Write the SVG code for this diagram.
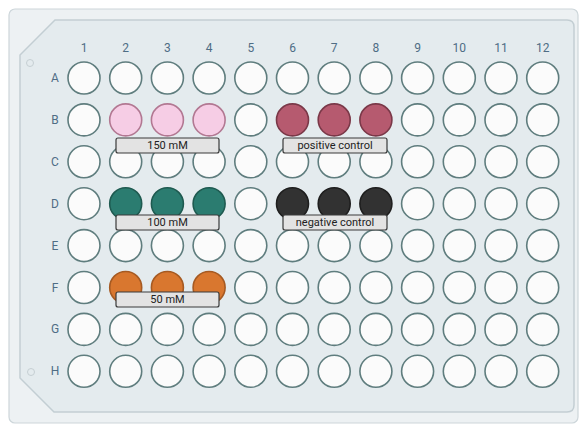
<svg xmlns="http://www.w3.org/2000/svg" width="581" height="425" viewBox="0 0 581 425">
<style>
.lbl{font-family:Roboto,"Liberation Sans",sans-serif;font-size:12px;fill:#4f6d85;text-anchor:middle;dominant-baseline:central}
.w{stroke-width:1.6}
.e{fill:#fbfbfb;stroke:#5f7d7e}
.pk{fill:#f6cde5;stroke:#b27892}
.pc{fill:#b65a6f;stroke:#7a3848}
.tl{fill:#2b7c70;stroke:#1e5a50}
.dk{fill:#323232;stroke:#1e1e1e}
.or{fill:#d9772f;stroke:#a65a22}
.tag rect{fill:#e3e3e3;stroke:#3a3a3a;stroke-width:1.2}
.tag text{font-family:Roboto,"Liberation Sans",sans-serif;font-size:11px;fill:#222;text-anchor:middle;dominant-baseline:central}
</style>
<g id="plate">
<rect x="9" y="9" width="569" height="414" rx="6" fill="#edf1f3" stroke="#cdd6da" stroke-width="1.2"/>
<path d="M55 20 L567 20 Q574 20 574 27 L574 405 Q574 412 567 412 L54 412 L20 378 L20 55 Z" fill="#e4ebee" stroke="#c3ced3" stroke-width="1.5"/>
<circle cx="30" cy="63" r="3.5" fill="none" stroke="#c6cfd3"/>
<circle cx="31" cy="372" r="3.5" fill="none" stroke="#c6cfd3"/>
</g>
<g id="col-labels">
<text class="lbl" x="84" y="48">1</text><text class="lbl" x="125.7" y="48">2</text><text class="lbl" x="167.4" y="48">3</text><text class="lbl" x="209.1" y="48">4</text><text class="lbl" x="250.8" y="48">5</text><text class="lbl" x="292.5" y="48">6</text><text class="lbl" x="334.2" y="48">7</text><text class="lbl" x="375.9" y="48">8</text><text class="lbl" x="417.6" y="48">9</text><text class="lbl" x="459.3" y="48">10</text><text class="lbl" x="501" y="48">11</text><text class="lbl" x="542.7" y="48">12</text>
</g>
<g id="row-labels">
<text class="lbl" x="55" y="78">A</text><text class="lbl" x="55" y="119.9">B</text><text class="lbl" x="55" y="161.8">C</text><text class="lbl" x="55" y="203.7">D</text><text class="lbl" x="55" y="245.6">E</text><text class="lbl" x="55" y="287.5">F</text><text class="lbl" x="55" y="329.4">G</text><text class="lbl" x="55" y="371.3">H</text>
</g>
<g id="wells">
<g id="row-A"><circle class="w e" cx="84" cy="78" r="16"/><circle class="w e" cx="125.7" cy="78" r="16"/><circle class="w e" cx="167.4" cy="78" r="16"/><circle class="w e" cx="209.1" cy="78" r="16"/><circle class="w e" cx="250.8" cy="78" r="16"/><circle class="w e" cx="292.5" cy="78" r="16"/><circle class="w e" cx="334.2" cy="78" r="16"/><circle class="w e" cx="375.9" cy="78" r="16"/><circle class="w e" cx="417.6" cy="78" r="16"/><circle class="w e" cx="459.3" cy="78" r="16"/><circle class="w e" cx="501" cy="78" r="16"/><circle class="w e" cx="542.7" cy="78" r="16"/></g>
<g id="row-B"><circle class="w e" cx="84" cy="119.9" r="16"/><circle class="w pk" cx="125.7" cy="119.9" r="16"/><circle class="w pk" cx="167.4" cy="119.9" r="16"/><circle class="w pk" cx="209.1" cy="119.9" r="16"/><circle class="w e" cx="250.8" cy="119.9" r="16"/><circle class="w pc" cx="292.5" cy="119.9" r="16"/><circle class="w pc" cx="334.2" cy="119.9" r="16"/><circle class="w pc" cx="375.9" cy="119.9" r="16"/><circle class="w e" cx="417.6" cy="119.9" r="16"/><circle class="w e" cx="459.3" cy="119.9" r="16"/><circle class="w e" cx="501" cy="119.9" r="16"/><circle class="w e" cx="542.7" cy="119.9" r="16"/></g>
<g id="row-C"><circle class="w e" cx="84" cy="161.8" r="16"/><circle class="w e" cx="125.7" cy="161.8" r="16"/><circle class="w e" cx="167.4" cy="161.8" r="16"/><circle class="w e" cx="209.1" cy="161.8" r="16"/><circle class="w e" cx="250.8" cy="161.8" r="16"/><circle class="w e" cx="292.5" cy="161.8" r="16"/><circle class="w e" cx="334.2" cy="161.8" r="16"/><circle class="w e" cx="375.9" cy="161.8" r="16"/><circle class="w e" cx="417.6" cy="161.8" r="16"/><circle class="w e" cx="459.3" cy="161.8" r="16"/><circle class="w e" cx="501" cy="161.8" r="16"/><circle class="w e" cx="542.7" cy="161.8" r="16"/></g>
<g id="row-D"><circle class="w e" cx="84" cy="203.7" r="16"/><circle class="w tl" cx="125.7" cy="203.7" r="16"/><circle class="w tl" cx="167.4" cy="203.7" r="16"/><circle class="w tl" cx="209.1" cy="203.7" r="16"/><circle class="w e" cx="250.8" cy="203.7" r="16"/><circle class="w dk" cx="292.5" cy="203.7" r="16"/><circle class="w dk" cx="334.2" cy="203.7" r="16"/><circle class="w dk" cx="375.9" cy="203.7" r="16"/><circle class="w e" cx="417.6" cy="203.7" r="16"/><circle class="w e" cx="459.3" cy="203.7" r="16"/><circle class="w e" cx="501" cy="203.7" r="16"/><circle class="w e" cx="542.7" cy="203.7" r="16"/></g>
<g id="row-E"><circle class="w e" cx="84" cy="245.6" r="16"/><circle class="w e" cx="125.7" cy="245.6" r="16"/><circle class="w e" cx="167.4" cy="245.6" r="16"/><circle class="w e" cx="209.1" cy="245.6" r="16"/><circle class="w e" cx="250.8" cy="245.6" r="16"/><circle class="w e" cx="292.5" cy="245.6" r="16"/><circle class="w e" cx="334.2" cy="245.6" r="16"/><circle class="w e" cx="375.9" cy="245.6" r="16"/><circle class="w e" cx="417.6" cy="245.6" r="16"/><circle class="w e" cx="459.3" cy="245.6" r="16"/><circle class="w e" cx="501" cy="245.6" r="16"/><circle class="w e" cx="542.7" cy="245.6" r="16"/></g>
<g id="row-F"><circle class="w e" cx="84" cy="287.5" r="16"/><circle class="w or" cx="125.7" cy="287.5" r="16"/><circle class="w or" cx="167.4" cy="287.5" r="16"/><circle class="w or" cx="209.1" cy="287.5" r="16"/><circle class="w e" cx="250.8" cy="287.5" r="16"/><circle class="w e" cx="292.5" cy="287.5" r="16"/><circle class="w e" cx="334.2" cy="287.5" r="16"/><circle class="w e" cx="375.9" cy="287.5" r="16"/><circle class="w e" cx="417.6" cy="287.5" r="16"/><circle class="w e" cx="459.3" cy="287.5" r="16"/><circle class="w e" cx="501" cy="287.5" r="16"/><circle class="w e" cx="542.7" cy="287.5" r="16"/></g>
<g id="row-G"><circle class="w e" cx="84" cy="329.4" r="16"/><circle class="w e" cx="125.7" cy="329.4" r="16"/><circle class="w e" cx="167.4" cy="329.4" r="16"/><circle class="w e" cx="209.1" cy="329.4" r="16"/><circle class="w e" cx="250.8" cy="329.4" r="16"/><circle class="w e" cx="292.5" cy="329.4" r="16"/><circle class="w e" cx="334.2" cy="329.4" r="16"/><circle class="w e" cx="375.9" cy="329.4" r="16"/><circle class="w e" cx="417.6" cy="329.4" r="16"/><circle class="w e" cx="459.3" cy="329.4" r="16"/><circle class="w e" cx="501" cy="329.4" r="16"/><circle class="w e" cx="542.7" cy="329.4" r="16"/></g>
<g id="row-H"><circle class="w e" cx="84" cy="371.3" r="16"/><circle class="w e" cx="125.7" cy="371.3" r="16"/><circle class="w e" cx="167.4" cy="371.3" r="16"/><circle class="w e" cx="209.1" cy="371.3" r="16"/><circle class="w e" cx="250.8" cy="371.3" r="16"/><circle class="w e" cx="292.5" cy="371.3" r="16"/><circle class="w e" cx="334.2" cy="371.3" r="16"/><circle class="w e" cx="375.9" cy="371.3" r="16"/><circle class="w e" cx="417.6" cy="371.3" r="16"/><circle class="w e" cx="459.3" cy="371.3" r="16"/><circle class="w e" cx="501" cy="371.3" r="16"/><circle class="w e" cx="542.7" cy="371.3" r="16"/></g>
</g>
<g id="connectors"></g>
<g id="tag-150mM" class="tag"><rect x="116" y="138" width="103" height="15" rx="2"/><text x="167.5" y="145.5">150 mM</text></g>
<g id="tag-positive" class="tag"><rect x="283" y="138" width="104" height="15" rx="2"/><text x="335" y="145.5">positive control</text></g>
<g id="tag-100mM" class="tag"><rect x="116" y="215" width="103" height="15" rx="2"/><text x="167.5" y="222.5">100 mM</text></g>
<g id="tag-negative" class="tag"><rect x="283" y="215" width="104" height="15" rx="2"/><text x="335" y="222.5">negative control</text></g>
<g id="tag-50mM" class="tag"><rect x="116" y="292" width="103" height="15" rx="2"/><text x="167.5" y="299.5">50 mM</text></g>
</svg>
